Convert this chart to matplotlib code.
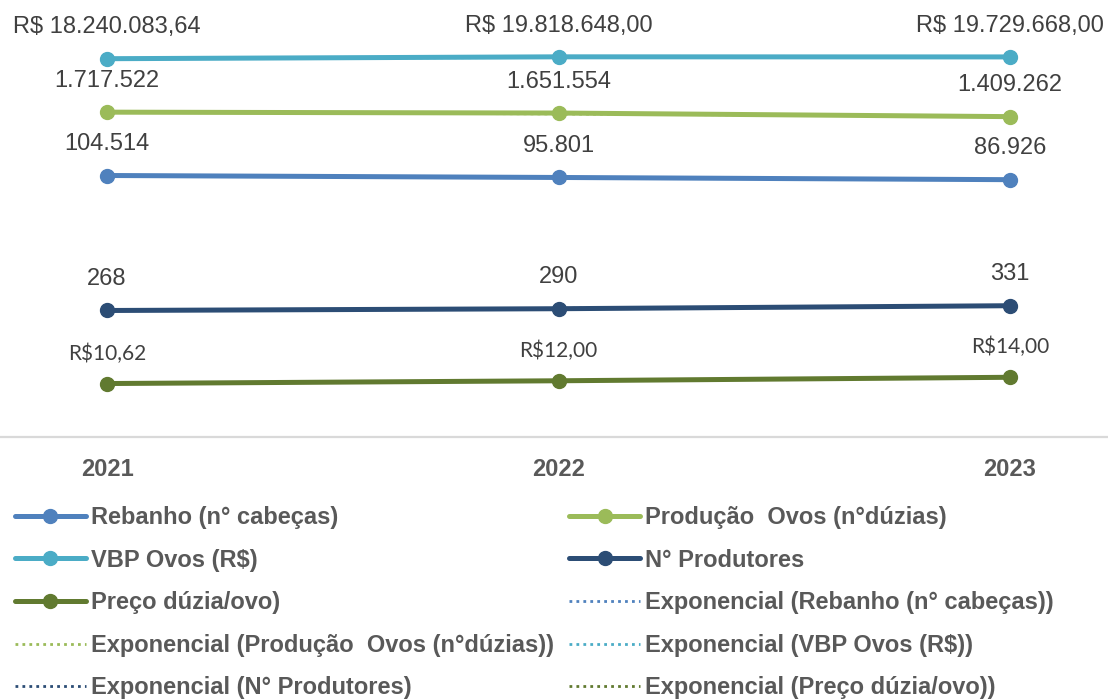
import numpy as np
import matplotlib
matplotlib.use("Agg")
import matplotlib.pyplot as plt

# Data
years = ["2021", "2022", "2023"]
rebanho = [104514, 95801, 86926]
producao = [1717522, 1651554, 1409262]
vbp = [18240083.64, 19818648.00, 19729668.00]
produtores = [268, 290, 331]
preco = [10.62, 12.00, 14.00]

rebanho_lbl = ["104.514", "95.801", "86.926"]
producao_lbl = ["1.717.522", "1.651.554", "1.409.262"]
vbp_lbl = ["R$ 18.240.083,64", "R$ 19.818.648,00", "R$ 19.729.668,00"]
produtores_lbl = ["268", "290", "331"]
preco_lbl = ["R$10,62", "R$12,00", "R$14,00"]

names = ["Rebanho (n° cabeças)", "Produção  Ovos (n°dúzias)", "VBP Ovos (R$)",
         "N° Produtores", "Preço dúzia/ovo)"]
colors = ["#4F81BD", "#9BBB59", "#4BACC6", "#2C4D75", "#617A30"]

plt.rcParams['font.family'] = ['Liberation Sans', 'DejaVu Sans']

fig = plt.figure(figsize=(11.08, 6.99), dpi=100)
W, H = 1108, 699
# plot area: categories at x=107, 558, 1010 ; value 1 at y=437, 52.1 px/decade
step = 451.5
left_px = 107 - step / 2
ax = fig.add_axes([left_px / W, (H - 437) / H, 3 * step / W, 8 * 52.1 / H])
ax.set_yscale('log')
ax.set_ylim(1, 1e8)
ax.set_xlim(-0.5, 2.5)

x = np.arange(len(years))
series = [rebanho, producao, vbp, produtores, preco]
labels = [rebanho_lbl, producao_lbl, vbp_lbl, produtores_lbl, preco_lbl]

main_handles = []
trend_handles = []
for vals, lbls, name, c in zip(series, labels, names, colors):
    vals = np.array(vals, dtype=float)
    # exponential trendline
    k, b = np.polyfit(x, np.log(vals), 1)
    xt = np.linspace(0, 2, 50)
    th, = ax.plot(xt, np.exp(b + k * xt), ls=(0, (1, 1.5)), lw=2, color=c, zorder=2)
    h, = ax.plot(x, vals, color=c, lw=3.6, marker='o', ms=10, zorder=3,
                 solid_capstyle='round')
    main_handles.append(h)
    trend_handles.append(th)
    for xi, v, t in zip(x, vals, lbls):
        if name.startswith("Preço"):
            ax.annotate(t, (xi, v), xytext=(0, 21.6), textcoords='offset points',
                        ha='center', va='center', fontsize=15, color='#404040',
                        family=['Lato', 'DejaVu Sans'], annotation_clip=False)
        else:
            ax.annotate(t, (xi, v), xytext=(0, 22.5), textcoords='offset points',
                        ha='center', va='center', fontsize=17, color='#404040',
                        annotation_clip=False)

for s in ['top', 'left', 'right']:
    ax.spines[s].set_visible(False)
ax.spines['bottom'].set_color('#D9D9D9')
ax.spines['bottom'].set_linewidth(1.6)
ax.set_yticks([])
ax.yaxis.set_minor_locator(matplotlib.ticker.NullLocator())
ax.set_xticks(x)
ax.set_xticklabels(years, fontsize=17, fontweight='bold', color='#595959')
ax.tick_params(axis='x', length=0, pad=15)

handles = main_handles + trend_handles
leg_labels = names + ["Exponencial (" + n + ")" for n in names]
order = [0, 2, 4, 6, 8, 1, 3, 5, 7, 9]
leg = fig.legend([handles[i] for i in order], [leg_labels[i] for i in order],
                 ncol=2, loc='upper left', bbox_to_anchor=(15 / W, 1 - 506 / H),
                 frameon=False, borderpad=0, borderaxespad=0,
                 handlelength=3.0, handletextpad=0.22, columnspacing=0.64,
                 labelspacing=0.83,
                 prop={'family': 'Liberation Sans', 'weight': 'bold', 'size': 17})
for t in leg.get_texts():
    t.set_color('#595959')

fig.savefig("out.png", dpi=100)
